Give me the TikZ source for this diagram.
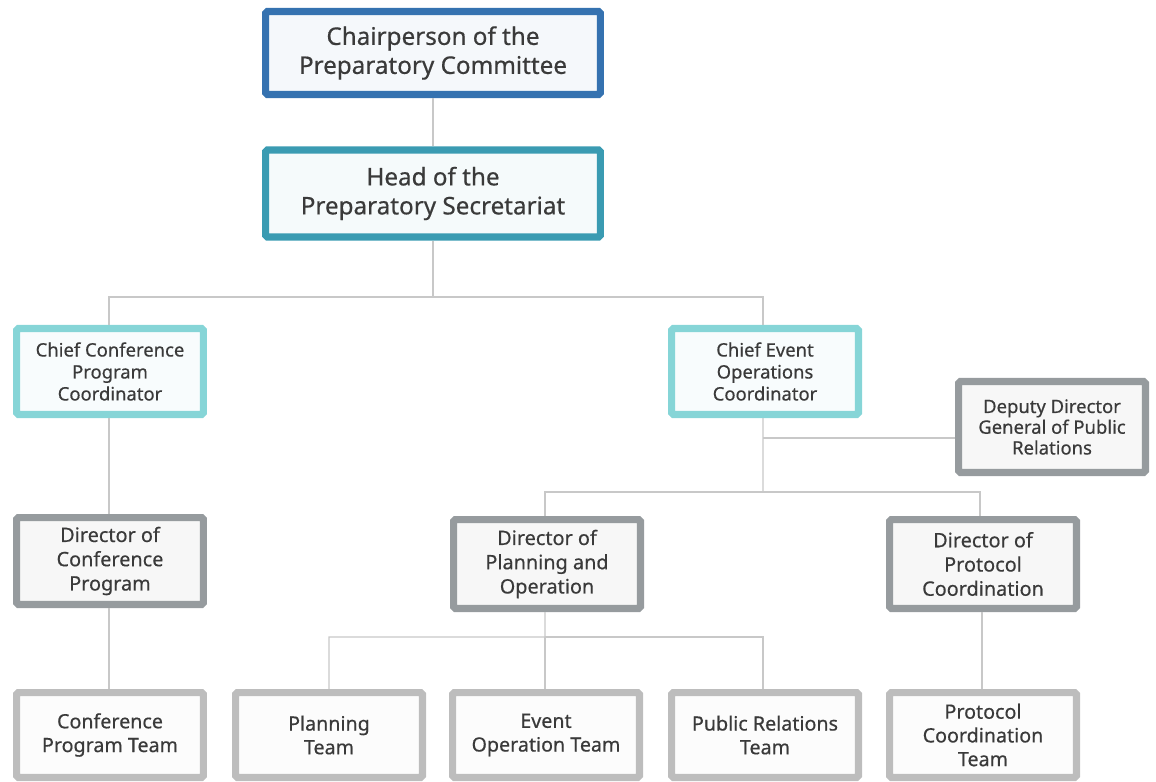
\documentclass[tikz,border=0pt]{standalone}
\usepackage{fontspec}
\setmainfont{Noto Sans}
\newfontfamily\orgfont{Noto Sans}[FakeBold=0.5]
\usetikzlibrary{positioning}
\definecolor{cchair}{HTML}{3572B0}
\definecolor{chead}{HTML}{3A9BB2}
\definecolor{cchief}{HTML}{86D5D7}
\definecolor{cdir}{HTML}{969B9E}
\definecolor{cteam}{HTML}{BDBDBD}
\definecolor{cline}{HTML}{C8C8C8}
\definecolor{ctext}{HTML}{3A3A3A}
\begin{document}
\begin{tikzpicture}[x=0.02cm,y=-0.02cm,
  box/.style={align=center,text=ctext,line width=4pt,inner sep=0pt,rounded corners=1pt,
              minimum width=3.74cm,minimum height=1.72cm},
  top/.style={box,draw=cchair,fill=cchair!5,minimum width=6.7cm,
              font=\orgfont\fontsize{13.8}{16.5}\selectfont},
  chief/.style={box,draw=cchief,fill=cchief!6,font=\orgfont\fontsize{10.5}{12.5}\selectfont},
  dir/.style={box,draw=cdir,fill=black!3,font=\orgfont\fontsize{11.3}{13.8}\selectfont},
  team/.style={box,draw=cteam,fill=black!1,minimum height=1.7cm,
               font=\orgfont\fontsize{11.2}{13.5}\selectfont},
  link/.style={cline,line width=0.8pt}]
  \useasboundingbox (0,0) rectangle (1156,781);
  \node[top,minimum height=1.66cm] (chair) at (433,53) {Chairperson of the\\Preparatory Committee};
  \node[top,draw=chead,fill=chead!5,minimum height=1.74cm] (head) at (433,193.5) {Head of the\\Preparatory Secretariat};
  \node[chief] (cc) at (110,371.5) {Chief Conference\\Program\\Coordinator};
  \node[chief] (ce) at (765,371.5) {Chief Event\\Operations\\Coordinator};
  \node[dir,minimum height=1.82cm,font=\orgfont\fontsize{10.5}{11.8}\selectfont] (dpr) at (1052,427) {Deputy Director\\General of Public\\Relations};
  \node[dir,minimum height=1.74cm] (dc) at (110,561) {Director of\\Conference\\Program};
  \node[dir,minimum height=1.78cm] (dpl) at (547,564) {Director of\\Planning and\\Operation};
  \node[dir,minimum height=1.78cm] (dpc) at (983,564) {Director of\\Protocol\\Coordination};
  \node[team] (tc) at (110,735) {Conference\\Program Team};
  \node[team] (tp) at (329,735) {Planning\\Team};
  \node[team] (te) at (546,735) {Event\\Operation Team};
  \node[team] (tr) at (765,735) {Public Relations\\Team};
  \node[team] (tpc) at (983,735) {Protocol\\Coordination\\Team};
  % branch points
  \coordinate (b1) at (433,297);
  \coordinate (b2) at (763,438);
  \coordinate (b3) at (763,492);
  \coordinate (b4) at (545,637);
  \draw[link] (chair) -- (head);
  \draw[link] (head) -- (b1) -| ([xshift=-0.02cm]cc.north);
  \draw[link] (b1) -| ([xshift=-0.04cm]ce.north);
  \draw[link] ([xshift=-0.04cm]ce.south) -- (b3);
  \draw[link] (b2) -- (b2 -| dpr.west);
  \draw[link] (b3) -| ([xshift=-0.04cm]dpl.north);
  \draw[link] (b3) -| ([xshift=-0.06cm]dpc.north);
  \draw[link] ([xshift=-0.04cm]dpl.south) -- (b4) -| (tp.north);
  \draw[link] (b4) -| ([xshift=-0.04cm]tr.north);
  \draw[link] (b4) -- (b4 |- te.north);
  \foreach \a/\b in {cc/dc,dc/tc,dpc/tpc}
     \draw[link] ([xshift=-0.02cm]\a.south) -- ([xshift=-0.02cm]\b.north);
\end{tikzpicture}
\end{document}
